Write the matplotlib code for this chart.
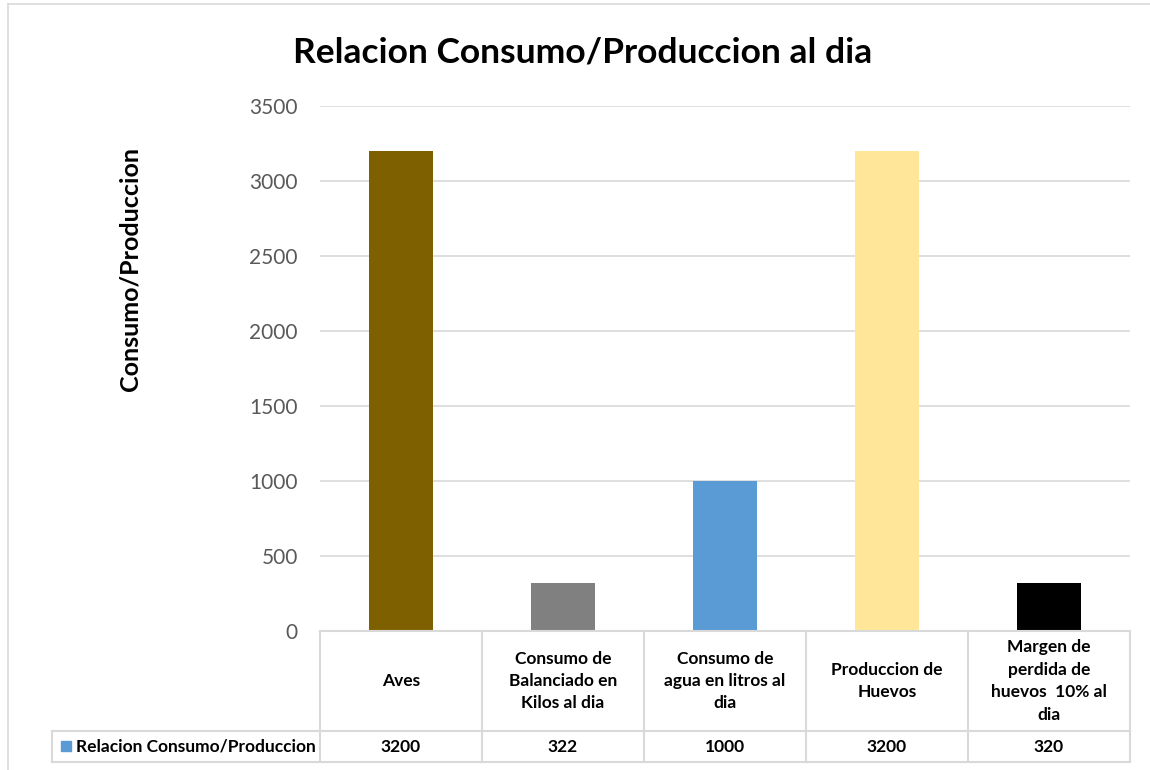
import matplotlib.pyplot as plt
import matplotlib.transforms as mtransforms
from matplotlib.patches import Rectangle

# categories and values
categorias = ["Aves", "Consumo de\nBalanciado en\nKilos al dia", "Consumo de\nagua en litros al\ndia",
              "Produccion de\nHuevos", "Margen de\nperdida de\nhuevos  10% al\ndia"]
valores = [3200, 322, 1000, 3200, 320]
colores = ["#7F6000", "#808080", "#5B9BD5", "#FFE699", "#000000"]
serie = "Relacion Consumo/Produccion"
yticks = [0, 500, 1000, 1500, 2000, 2500, 3000, 3500]

plt.rcParams['font.family'] = ['Lato', 'DejaVu Sans']

W, H = 1150, 770
fig = plt.figure(figsize=(W / 100, H / 100), dpi=100)

# plot area in pixel coordinates
x0, x1 = 320, 1130
ytop, ybot = 106, 631
ax = fig.add_axes([x0 / W, 1 - ybot / H, (x1 - x0) / W, (ybot - ytop) / H])

xs = range(len(valores))
ax.bar(xs, valores, width=0.4, color=colores, zorder=3)
ax.set_xlim(-0.5, len(valores) - 0.5)
ax.set_ylim(0, 3500)
ax.set_yticks(yticks)
ax.set_yticklabels([str(t) for t in yticks], color="#595959", fontsize=15)
ax.set_xticks([])
ax.tick_params(axis="y", length=0, pad=16)
ax.grid(axis="y", color="#D9D9D9", linewidth=1.2, zorder=0)
for s in ax.spines.values():
    s.set_visible(False)

fig.text(583 / W, 1 - 52 / H, "Relacion Consumo/Produccion al dia", ha="center", va="center",
         fontsize=25.5, fontweight="bold")
fig.text(130 / W, 1 - 269 / H, "Consumo/Produccion", ha="center", va="center",
         rotation=90, fontsize=18, fontweight="bold")

# data table under the axis
grid_c = "#D9D9D9"
trans = mtransforms.blended_transform_factory(ax.transData, fig.transFigure)
y_hdr_top, y_val_top, y_end = 1 - 631 / H, 1 - 731 / H, 1 - 762 / H
lx = 52 / W
fs_tab = 12.5

def hline(y, xa):
    fig.add_artist(plt.Line2D([xa, x1 / W], [y, y], color=grid_c, linewidth=1.5,
                              transform=fig.transFigure))

def vline(xf, ya, yb):
    fig.add_artist(plt.Line2D([xf, xf], [ya, yb], color=grid_c, linewidth=1.5,
                              transform=fig.transFigure))

hline(y_hdr_top, x0 / W)
hline(y_val_top, lx)
hline(y_end, lx)
vline(lx, y_val_top, y_end)
for i in range(len(valores) + 1):
    vline((x0 + i * (x1 - x0) / len(valores)) / W, y_hdr_top, y_end)

for i, (c, v) in enumerate(zip(categorias, valores)):
    fig.text(i, (y_hdr_top + y_val_top) / 2, c, transform=trans, ha="center", va="center",
             fontsize=fs_tab, fontweight="bold", linespacing=1.5)
    fig.text(i, (y_val_top + y_end) / 2, str(v), transform=trans, ha="center", va="center",
             fontsize=fs_tab, fontweight="bold")

fig.add_artist(Rectangle((61 / W, 1 - 751 / H), 10 / W, 10 / H, color="#5B9BD5",
                         transform=fig.transFigure))
fig.text(76 / W, (y_val_top + y_end) / 2, serie, ha="left", va="center",
         fontsize=fs_tab, fontweight="bold")

# outer chart frame
fig.add_artist(plt.Line2D([8 / W, 8 / W], [0, 1 - 4 / H], color=grid_c, linewidth=1.2,
                          transform=fig.transFigure))
fig.add_artist(plt.Line2D([8 / W, 1], [1 - 4 / H, 1 - 4 / H], color=grid_c, linewidth=1.2,
                          transform=fig.transFigure))

fig.savefig("out.png", dpi=100)
